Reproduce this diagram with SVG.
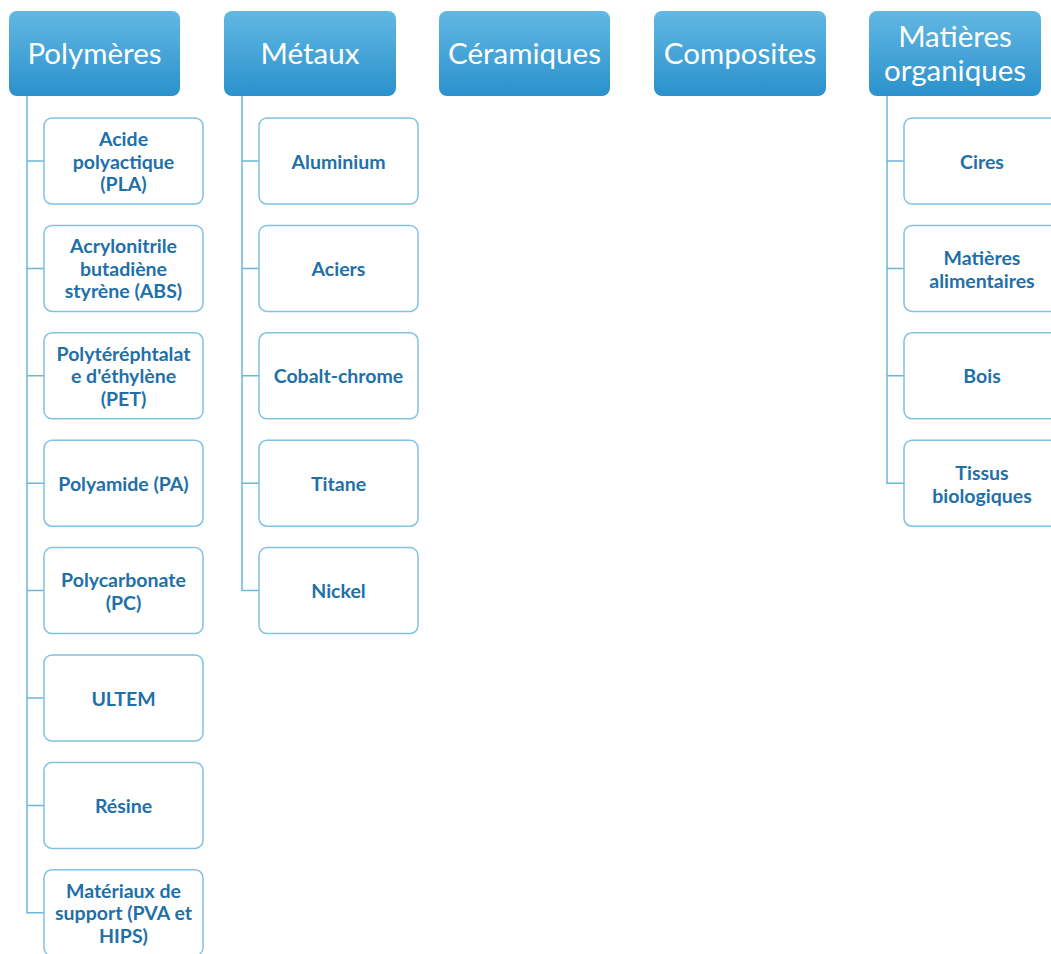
<svg xmlns="http://www.w3.org/2000/svg" width="1051" height="954" viewBox="0 0 1051 954">
<defs>
<linearGradient id="hg" x1="0" y1="0" x2="0" y2="1">
<stop offset="0" stop-color="#62b8e3"/>
<stop offset="1" stop-color="#2b91cc"/>
</linearGradient>
</defs>
<style>
.hdr rect{fill:url(#hg);}
.hdr text{fill:#ffffff;font-family:Lato,"Open Sans",sans-serif;font-size:29.5px;text-anchor:middle;dominant-baseline:central;}
.ch rect{fill:#ffffff;stroke:#7fc2e2;stroke-width:1.5;}
.ch text{fill:#1f70a8;font-family:Lato,"Open Sans",sans-serif;font-weight:bold;font-size:19.5px;text-anchor:middle;dominant-baseline:central;}
.con path{fill:none;stroke:#6cb6dc;stroke-width:1.5;}
</style>
<rect width="1051" height="954" fill="#ffffff"/>
<g class="con">
<path d="M27 96V912.8H44M27 161H44M27 268.4H44M27 375.8H44M27 483.2H44M27 590.6H44M27 698H44M27 805.4H44"/>
<path d="M242 96V590.6H259M242 161H259M242 268.4H259M242 375.8H259M242 483.2H259"/>
<path d="M887 96V483.2H904M887 161H904M887 268.4H904M887 375.8H904"/>
</g>
<g id="h-polymeres" class="hdr"><rect x="9" y="11" width="171" height="85" rx="8"/><text x="94.5" y="52">Polymères</text></g>
<g id="h-metaux" class="hdr"><rect x="224" y="11" width="172" height="85" rx="8"/><text x="310" y="52">Métaux</text></g>
<g id="h-ceramiques" class="hdr"><rect x="439" y="11" width="171" height="85" rx="8"/><text x="524.5" y="52">Céramiques</text></g>
<g id="h-composites" class="hdr"><rect x="654" y="11" width="172" height="85" rx="8"/><text x="740" y="52">Composites</text></g>
<g id="h-organiques" class="hdr"><rect x="869" y="11" width="172" height="85" rx="8"/><text x="955" y="35">Matières</text><text x="955" y="69">organiques</text></g>

<g id="p1" class="ch"><rect x="44" y="118" width="159" height="86" rx="8"/><text x="123.5" y="138.5">Acide</text><text x="123.5" y="161">polyactique</text><text x="123.5" y="183.5">(PLA)</text></g>
<g id="p2" class="ch"><rect x="44" y="225.4" width="159" height="86" rx="8"/><text x="123.5" y="245.9">Acrylonitrile</text><text x="123.5" y="268.4">butadiène</text><text x="123.5" y="290.9">styrène (ABS)</text></g>
<g id="p3" class="ch"><rect x="44" y="332.8" width="159" height="86" rx="8"/><text x="123.5" y="353.3">Polytéréphtalat</text><text x="123.5" y="375.8">e d'éthylène</text><text x="123.5" y="398.3">(PET)</text></g>
<g id="p4" class="ch"><rect x="44" y="440.2" width="159" height="86" rx="8"/><text x="123.5" y="483.2">Polyamide (PA)</text></g>
<g id="p5" class="ch"><rect x="44" y="547.6" width="159" height="86" rx="8"/><text x="123.5" y="579.1">Polycarbonate</text><text x="123.5" y="602.1">(PC)</text></g>
<g id="p6" class="ch"><rect x="44" y="655" width="159" height="86" rx="8"/><text x="123.5" y="698">ULTEM</text></g>
<g id="p7" class="ch"><rect x="44" y="762.4" width="159" height="86" rx="8"/><text x="123.5" y="805.4">Résine</text></g>
<g id="p8" class="ch"><rect x="44" y="869.8" width="159" height="86" rx="8"/><text x="123.5" y="890.3">Matériaux de</text><text x="123.5" y="912.8">support (PVA et</text><text x="123.5" y="935.3">HIPS)</text></g>

<g id="m1" class="ch"><rect x="259" y="118" width="159" height="86" rx="8"/><text x="338.5" y="161">Aluminium</text></g>
<g id="m2" class="ch"><rect x="259" y="225.4" width="159" height="86" rx="8"/><text x="338.5" y="268.4">Aciers</text></g>
<g id="m3" class="ch"><rect x="259" y="332.8" width="159" height="86" rx="8"/><text x="338.5" y="375.8">Cobalt-chrome</text></g>
<g id="m4" class="ch"><rect x="259" y="440.2" width="159" height="86" rx="8"/><text x="338.5" y="483.2">Titane</text></g>
<g id="m5" class="ch"><rect x="259" y="547.6" width="159" height="86" rx="8"/><text x="338.5" y="590.6">Nickel</text></g>

<g id="o1" class="ch"><rect x="904" y="118" width="159" height="86" rx="8"/><text x="982" y="161">Cires</text></g>
<g id="o2" class="ch"><rect x="904" y="225.4" width="159" height="86" rx="8"/><text x="982" y="257.4">Matières</text><text x="982" y="280.4">alimentaires</text></g>
<g id="o3" class="ch"><rect x="904" y="332.8" width="159" height="86" rx="8"/><text x="982" y="375.8">Bois</text></g>
<g id="o4" class="ch"><rect x="904" y="440.2" width="159" height="86" rx="8"/><text x="982" y="472.2">Tissus</text><text x="982" y="495.2">biologiques</text></g>
</svg>
